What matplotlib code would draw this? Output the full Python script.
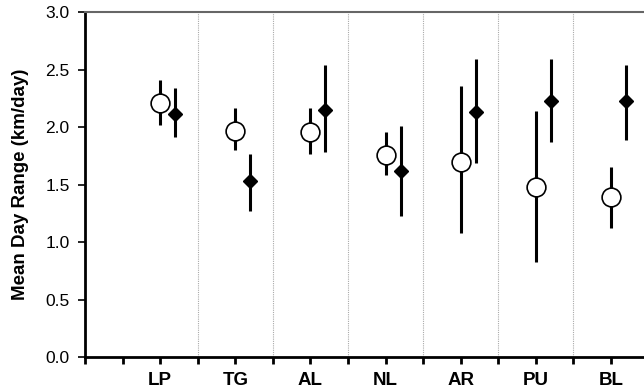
import numpy as np
import matplotlib
matplotlib.use("Agg")
import matplotlib.pyplot as plt

plt.rcParams['font.family'] = ['Liberation Sans', 'DejaVu Sans']

# --- data ---
sites = ['LP', 'TG', 'AL', 'NL', 'AR', 'PU', 'BL']
open_mean = [2.21, 1.97, 1.96, 1.76, 1.70, 1.48, 1.39]
open_lo = [2.02, 1.80, 1.77, 1.58, 1.08, 0.83, 1.12]
open_hi = [2.41, 2.17, 2.17, 1.96, 2.36, 2.14, 1.65]
filled_mean = [2.11, 1.53, 2.15, 1.62, 2.13, 2.23, 2.23]
filled_lo = [1.91, 1.27, 1.78, 1.23, 1.69, 1.87, 1.89]
filled_hi = [2.34, 1.77, 2.54, 2.01, 2.59, 2.59, 2.54]
y_ticks = [0.0, 0.5, 1.0, 1.5, 2.0, 2.5, 3.0]

fig = plt.figure(figsize=(6.44, 3.92), dpi=100)
ax = fig.add_axes([0.132, 0.089, 0.868, 0.880])

pos = np.arange(1, len(sites) + 1)
offset = 0.2

# separators between sites
for s in pos[:-1] + 0.5:
    ax.axvline(s, color='#aaaaaa', linestyle=(0, (1, 1)), linewidth=0.8, zorder=1)

ax.vlines(pos, open_lo, open_hi, color='black', linewidth=2.2, zorder=2)
ax.plot(pos, open_mean, 'o', markersize=13.5, markerfacecolor='white',
        markeredgecolor='black', markeredgewidth=1.2, zorder=3)

ax.vlines(pos + offset, filled_lo, filled_hi, color='black', linewidth=2.2, zorder=2)
ax.plot(pos + offset, filled_mean, 'D', markersize=7.5, color='black', zorder=3)

ax.set_xlim(0, 7.44)
ax.set_ylim(0, 3.0)

xt = np.arange(0, 7.5, 0.5)
ax.set_xticks(xt)
ax.set_xticklabels([sites[int(t) - 1] if t == int(t) and t > 0 else '' for t in xt],
                   fontsize=13.5, fontweight='bold')
ax.set_yticks(y_ticks)
ax.set_yticklabels(['%.1f' % v for v in y_ticks], fontsize=12.5)
ax.tick_params(axis='x', direction='out', length=5, width=2, pad=6)
ax.tick_params(axis='y', direction='out', length=5, width=1.2, pad=6)

ax.set_ylabel('Mean Day Range (km/day)', fontsize=13.5, fontweight='bold', labelpad=12)

ax.spines['right'].set_visible(False)
ax.spines['left'].set_linewidth(2)
ax.spines['bottom'].set_linewidth(2)
ax.spines['top'].set_color('#666666')
ax.spines['top'].set_linewidth(1.5)

fig.savefig('out.png', dpi=100)
